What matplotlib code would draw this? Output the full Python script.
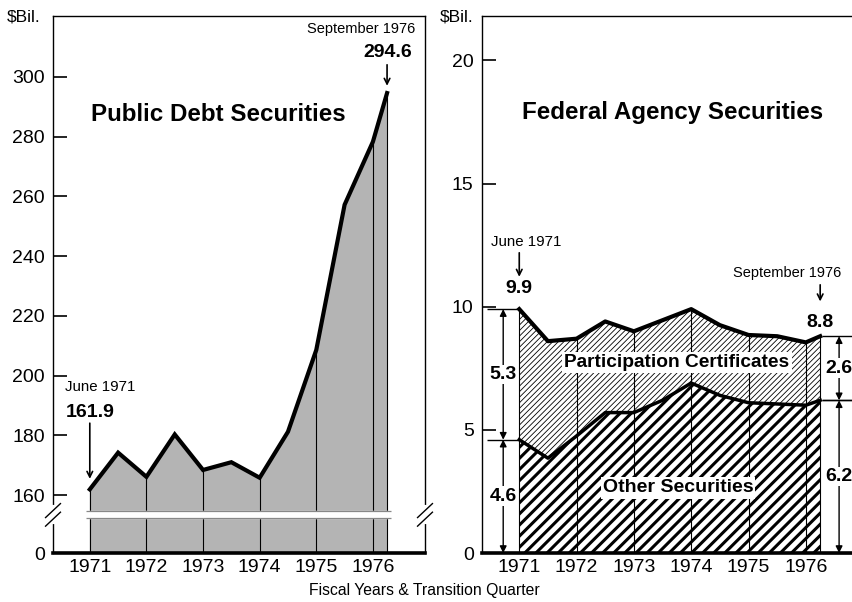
import matplotlib
matplotlib.use("Agg")
import matplotlib.pyplot as plt
import numpy as np

plt.rcParams['font.family'] = ['Liberation Sans', 'DejaVu Sans']

# half-year points, ending with the transition quarter (September 1976)
periods = [1971, 1971.5, 1972, 1972.5, 1973, 1973.5, 1974, 1974.5, 1975, 1975.5, 1976, 1976.25]
public_debt = [161.9, 174.2, 166.1, 180.3, 168.4, 171.0, 165.8, 181.2, 208.6, 257.2, 278.3, 294.6]
agency_total = [9.9, 8.6, 8.7, 9.4, 9.0, 9.45, 9.9, 9.25, 8.85, 8.8, 8.55, 8.8]
other_securities = [4.6, 3.85, 4.75, 5.7, 5.7, 6.2, 6.9, 6.4, 6.1, 6.05, 6.0, 6.2]
year_labels = ['1971', '1972', '1973', '1974', '1975', '1976']
year_ticks = [1971, 1972, 1973, 1974, 1975, 1976]

left_ticks = [160, 180, 200, 220, 240, 260, 280, 300]
right_ticks = [0, 5, 10, 15, 20]
zero_pos = 140.6   # where "0" sits below the axis break
break_lo, break_hi = 152.3, 154.6


def style_axes(ax):
	ax.tick_params(axis='y', direction='in', length=10, width=1.2, labelsize=14, pad=6)
	ax.tick_params(axis='x', length=0, labelsize=14, pad=4)
	ax.set_xticks(year_ticks)
	ax.set_xticklabels(year_labels)
	for s in ['top', 'left', 'right']:
		ax.spines[s].set_linewidth(1.0)
	ax.spines['bottom'].set_linewidth(2.6)


fig = plt.figure(figsize=(8.52, 6.02), dpi=100)

# ---------------- Public debt ----------------
ax1 = fig.add_axes([53 / 852, 49 / 602, 372 / 852, 537 / 602])
x = np.array(periods)
y = np.array(public_debt)
ax1.fill_between(x, zero_pos, y, facecolor='#b4b4b4', edgecolor='none', zorder=1)
ax1.plot(x, y, color='black', lw=3, solid_joinstyle='miter', zorder=4)
ax1.vlines(list(x[::2]) + [x[-1]], zero_pos, list(y[::2]) + [y[-1]], color='black', lw=0.8, zorder=2)

# axis break through the fill
ax1.fill_between([x[0] - 0.07, x[-1] + 0.07], break_lo, break_hi, color='white', zorder=3)
ax1.hlines([break_lo, break_hi], x[0] - 0.07, x[-1] + 0.07, color='#888888', lw=0.9, zorder=3)
for xs in [0, 1]:
	ax1.plot([xs, xs], [0.057, 0.085], transform=ax1.transAxes, color='white', lw=3, clip_on=False, zorder=5)
	for dy in [-0.008, 0.008]:
		ax1.plot([xs - 0.02, xs + 0.02], [0.058 + dy, 0.084 + dy], transform=ax1.transAxes,
				 color='black', lw=1.0, clip_on=False, zorder=6)

ax1.set_xlim(1970.35, 1976.92)
ax1.set_ylim(zero_pos, 320.4)
ax1.set_yticks([zero_pos] + left_ticks)
ax1.set_yticklabels(['0'] + [str(t) for t in left_ticks])
style_axes(ax1)

ax1.text(0.4435, 0.8175, 'Public Debt Securities', transform=ax1.transAxes, ha='center', va='center',
		 fontsize=17.4, fontweight='bold')
ax1.text(1971.19, 196.2, 'June 1971', ha='center', va='center', fontsize=10.8)
ax1.text(x[0], 187.8, f'{public_debt[0]:.1f}', ha='center', va='center', fontsize=14, fontweight='bold')
ax1.annotate('', xy=(x[0], 164.5), xytext=(x[0], 185.0),
			 arrowprops=dict(arrowstyle='->', color='black', lw=1.2))
ax1.text(1975.8, 316.1, 'September 1976', ha='center', va='center', fontsize=10.5)
ax1.text(1976.27, 308.1, f'{public_debt[-1]:.1f}', ha='center', va='center', fontsize=14, fontweight='bold')
ax1.annotate('', xy=(x[-1], y[-1] + 1.5), xytext=(x[-1], 305.0),
			 arrowprops=dict(arrowstyle='->', color='black', lw=1.2))

# ---------------- Federal agency ----------------
ax2 = fig.add_axes([482 / 852, 49 / 602, 372 / 852, 537 / 602])
tot = np.array(agency_total)
oth = np.array(other_securities)

plt.rcParams['hatch.linewidth'] = 0.6
pc = ax2.fill_between(x, oth, tot, facecolor='white', edgecolor='black', hatch='//////', lw=0, zorder=1)
plt.rcParams['hatch.linewidth'] = 2.2
os_ = ax2.fill_between(x, 0, oth, facecolor='white', edgecolor='black', hatch='///', lw=0, zorder=1)
try:
	pc.set_hatch_linewidth(0.6)
	os_.set_hatch_linewidth(2.2)
except AttributeError:
	pass

ax2.plot(x, tot, color='black', lw=3, zorder=4)
ax2.plot(x, oth, color='black', lw=2.5, zorder=4)
ax2.vlines(list(x[::2]) + [x[-1]], 0, list(tot[::2]) + [tot[-1]], color='black', lw=0.8, zorder=2)

ax2.set_xlim(1970.35, 1976.84)
ax2.set_ylim(0, 21.8)
ax2.set_yticks(right_ticks)
style_axes(ax2)
ax2.spines['right'].set_visible(False)

ax2.text(0.511, 0.821, 'Federal Agency Securities', transform=ax2.transAxes, ha='center', va='center',
		 fontsize=17.4, fontweight='bold')
box = dict(facecolor='white', edgecolor='none', pad=1.5)
ax2.text(1973.75, 7.72, 'Participation Certificates', ha='center', va='center', fontsize=13.8,
		 fontweight='bold', bbox=box, zorder=5)
ax2.text(1973.77, 2.64, 'Other Securities', ha='center', va='center', fontsize=14,
		 fontweight='bold', bbox=box, zorder=5)

ax2.text(1971.12, 12.64, 'June 1971', ha='center', va='center', fontsize=10.8)
ax2.annotate('', xy=(x[0], 11.1), xytext=(x[0], 12.3),
			 arrowprops=dict(arrowstyle='->', color='black', lw=1.2))
ax2.text(x[0], 10.73, f'{agency_total[0]:.1f}', ha='center', va='center', fontsize=14, fontweight='bold')
ax2.text(1975.68, 11.38, 'September 1976', ha='center', va='center', fontsize=10.5)
ax2.annotate('', xy=(x[-1], 10.1), xytext=(x[-1], 11.0),
			 arrowprops=dict(arrowstyle='->', color='black', lw=1.2))
ax2.text(x[-1], 9.35, f'{agency_total[-1]:.1f}', ha='center', va='center', fontsize=14, fontweight='bold')


def dimension(ax, xa, lo, hi, label, x0, x1):
	ax.hlines([lo, hi], x0, x1, color='black', lw=1.0, clip_on=False, zorder=3)
	ax.annotate('', xy=(xa, lo), xytext=(xa, hi),
				arrowprops=dict(arrowstyle='<|-|>', color='black', lw=1.0, mutation_scale=10,
								shrinkA=0, shrinkB=0), annotation_clip=False)
	ax.text(xa, (lo + hi) / 2, label, ha='center', va='center', fontsize=14, fontweight='bold',
			bbox=dict(facecolor='white', edgecolor='none', pad=1), zorder=5, clip_on=False)


# left side: June 1971 breakdown
dimension(ax2, 1970.72, oth[0], tot[0], f'{tot[0] - oth[0]:.1f}', 1970.43, x[0])
dimension(ax2, 1970.72, 0, oth[0], f'{oth[0]:.1f}', 1970.43, 1970.43)
# right side: September 1976 breakdown
dimension(ax2, 1976.58, oth[-1], tot[-1], f'{tot[-1] - oth[-1]:.1f}', 1976.29, 1976.84)
dimension(ax2, 1976.58, 0, oth[-1], f'{oth[-1]:.1f}', 1976.29, 1976.84)

fig.text(24 / 852, 1 - 17 / 602, '$Bil.', ha='center', va='center', fontsize=12.5)
fig.text(457 / 852, 1 - 17 / 602, '$Bil.', ha='center', va='center', fontsize=12.5)
fig.text(424 / 852, 1 - 590 / 602, 'Fiscal Years & Transition Quarter', ha='center', va='center', fontsize=11.3)

fig.savefig('out.png', dpi=100)
